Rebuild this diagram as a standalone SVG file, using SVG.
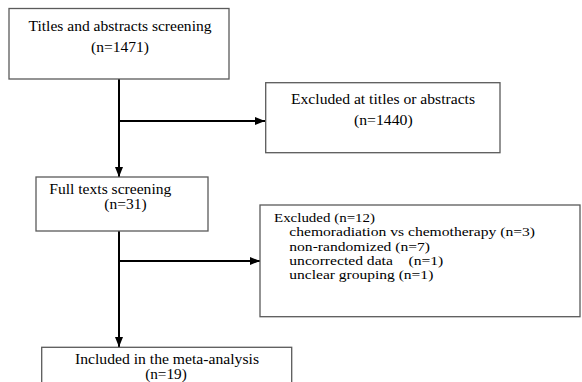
<svg xmlns="http://www.w3.org/2000/svg" width="582" height="382" viewBox="0 0 582 382">
<defs>
<style>
.box{fill:#fff;stroke:#5a5a5a;stroke-width:1.3}
.t{font-family:'Liberation Serif','Times New Roman',serif;font-size:14.5px;fill:#000}
.s{font-size:13.5px}
.c{text-anchor:middle}
.edge{stroke:#000;stroke-width:2;fill:none;marker-end:url(#ah)}
</style>
<marker id="ah" viewBox="0 0 10 8" refX="10" refY="4" markerWidth="10" markerHeight="8" markerUnits="userSpaceOnUse" orient="auto">
<path d="M0,0 L10,4 L0,8 Z" fill="#000"/>
</marker>
</defs>
<rect width="582" height="382" fill="#fff"/>
<g id="connectors">
<line class="edge" x1="119" y1="79" x2="119" y2="177"/>
<line class="edge" x1="119" y1="121" x2="265" y2="121"/>
<line class="edge" x1="119" y1="231" x2="119" y2="347"/>
<line class="edge" x1="119" y1="261" x2="260" y2="261"/>
</g>
<g id="titles-screening">
<rect class="box" x="9" y="8.5" width="220" height="70.5"/>
<text class="t c" x="120" y="30.5" textLength="183" lengthAdjust="spacingAndGlyphs">Titles and abstracts screening</text>
<text class="t c" x="120" y="52" textLength="58" lengthAdjust="spacingAndGlyphs">(n=1471)</text>
</g>
<g id="excluded-titles">
<rect class="box" x="265.7" y="82.7" width="234.3" height="70"/>
<text class="t c" x="383" y="103.5" textLength="184" lengthAdjust="spacingAndGlyphs">Excluded at titles or abstracts</text>
<text class="t c" x="383.3" y="124.5" textLength="58.7" lengthAdjust="spacingAndGlyphs">(n=1440)</text>
</g>
<g id="full-texts">
<rect class="box" x="36" y="177" width="172" height="54"/>
<text class="t" x="49.3" y="194.3" textLength="122" lengthAdjust="spacingAndGlyphs">Full texts screening</text>
<text class="t" x="104.3" y="209.3" textLength="42.3" lengthAdjust="spacingAndGlyphs">(n=31)</text>
</g>
<g id="excluded-full">
<rect class="box" x="260" y="205" width="320" height="111.7"/>
<text class="t s" x="274" y="222" textLength="101" lengthAdjust="spacingAndGlyphs">Excluded (n=12)</text>
<text class="t s" x="289.3" y="236.3" textLength="245.7" lengthAdjust="spacingAndGlyphs">chemoradiation vs chemotherapy (n=3)</text>
<text class="t s" x="289.3" y="250.6" textLength="140.7" lengthAdjust="spacingAndGlyphs">non-randomized (n=7)</text>
<text class="t s" x="289.3" y="264.9" textLength="154" lengthAdjust="spacingAndGlyphs" xml:space="preserve">uncorrected data    (n=1)</text>
<text class="t s" x="289.3" y="279.1" textLength="144" lengthAdjust="spacingAndGlyphs">unclear grouping (n=1)</text>
</g>
<g id="included">
<rect class="box" x="41.7" y="347.3" width="250" height="50"/>
<text class="t c" x="167" y="364" textLength="184" lengthAdjust="spacingAndGlyphs">Included in the meta-analysis</text>
<text class="t c" x="166" y="378.5" textLength="41.7" lengthAdjust="spacingAndGlyphs">(n=19)</text>
</g>
</svg>
